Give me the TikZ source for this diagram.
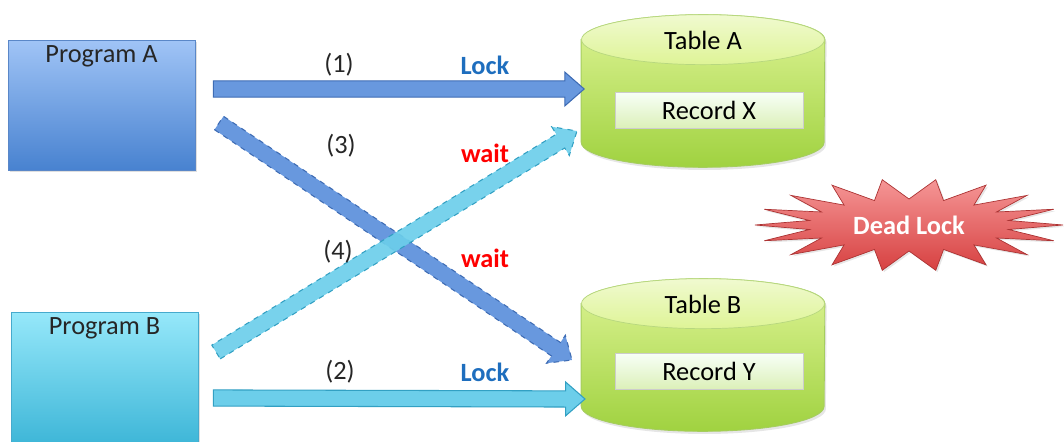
\documentclass[tikz,border=0pt]{standalone}
\usepackage{fontspec}
\setmainfont{Carlito}
\usetikzlibrary{shadows, calc}

\definecolor{progAtop}{RGB}{160,196,246}
\definecolor{progAbot}{RGB}{72,130,208}
\definecolor{progAline}{RGB}{90,135,200}
\definecolor{progBtop}{RGB}{150,232,250}
\definecolor{progBbot}{RGB}{58,180,214}
\definecolor{progBline}{RGB}{70,170,205}
\definecolor{arrA}{RGB}{104,152,222}
\definecolor{arrAline}{RGB}{62,108,180}
\definecolor{arrB}{RGB}{108,206,234}
\definecolor{arrBline}{RGB}{50,160,195}
\definecolor{tabtop}{RGB}{222,244,150}
\definecolor{tabbot}{RGB}{160,210,64}
\definecolor{tabline}{RGB}{165,205,95}
\definecolor{lockblue}{RGB}{30,110,190}
\definecolor{deadtop}{RGB}{245,150,150}
\definecolor{deadbot}{RGB}{215,65,65}

% fat block arrow from #1 to #2, drawn with style #3
\newcommand{\fatarrow}[3]{%
  \path let \p1=(#1), \p2=(#2) in
    \pgfextra{\pgfmathsetmacro{\fatang}{atan2(\y2-\y1,\x2-\x1)}%
      \pgfmathsetmacro{\fatlen}{veclen(\x2-\x1,\y2-\y1)}%
      \global\let\fatang\fatang \global\let\fatlen\fatlen};
  \begin{scope}[shift={(#1)}, rotate=\fatang]
    \draw[#3] (0pt,-4.6pt) -- ({\fatlen pt-11pt},-4.6pt) -- ({\fatlen pt-11pt},-9.6pt)
      -- ({\fatlen pt},0pt) -- ({\fatlen pt-11pt},9.6pt) -- ({\fatlen pt-11pt},4.6pt)
      -- (0pt,4.6pt) -- cycle;
  \end{scope}}

% database cylinder around the frame of node #1
\newcommand{\dbcylinder}[1]{%
  \draw[tablebody] ($(#1.north west)+(0,25)$) -- ($(#1.south west)+(0,-25)$)
    arc[start angle=180, end angle=360, x radius=2.43cm, y radius=0.5cm]
    -- ($(#1.north east)+(0,25)$)
    arc[start angle=0, end angle=180, x radius=2.43cm, y radius=0.5cm] -- cycle;
  \draw[tabletop] ($(#1.north)+(0,25)$) ellipse [x radius=2.43cm, y radius=0.5cm];}

\begin{document}
\begin{tikzpicture}[
    x=0.02cm, y=-0.02cm,
    font=\fontsize{15}{18}\selectfont,
    progbox/.style={rectangle, draw, minimum width=3.74cm,
      drop shadow={opacity=0.25, shadow xshift=1pt, shadow yshift=-1pt}},
    tablebox/.style={rectangle, minimum width=4.86cm, minimum height=3.04cm, inner sep=0pt},
    tablebody/.style={draw=tabline, line width=0.5pt, top color=tabtop, bottom color=tabbot,
      drop shadow={opacity=0.2, shadow xshift=1pt, shadow yshift=-1.5pt}},
    tabletop/.style={draw=tabline!80, line width=0.4pt, top color=tabtop!45, bottom color=tabtop},
    recbox/.style={rectangle, draw=gray!40, minimum width=3.76cm, minimum height=0.72cm,
      top color=green!3!white, bottom color={rgb,255:red,220;green,240;blue,185},
      drop shadow={opacity=0.25, shadow xshift=0.8pt, shadow yshift=-0.8pt}},
    steplbl/.style={text=black!85},
    locklbl/.style={font=\fontsize{15}{18}\selectfont\bfseries, text=lockblue},
    waitlbl/.style={font=\fontsize{15}{18}\selectfont\bfseries, text=red},
    arrowA/.style={fill=arrA, draw=arrAline, line width=0.6pt},
    arrowB/.style={fill=arrB, draw=arrBline, line width=0.6pt},
    waitA/.style={arrowA, dashed},
    waitB/.style={arrowB, dashed, fill opacity=0.92}
  ]
  \useasboundingbox (0,0) rectangle (1064,442);

  % programs
  \node[progbox, minimum height=2.6cm, draw=progAline, top color=progAtop, bottom color=progAbot,
    label={[anchor=center, yshift=-0.34cm, text=black!85]north:Program A}] (progA) at (101.5,105) {};
  \node[progbox, minimum height=2.76cm, draw=progBline, top color=progBtop, bottom color=progBbot,
    label={[anchor=center, yshift=-0.34cm, text=black!85]north:Program B}] (progB) at (104.5,381) {};

  % tables
  \node[tablebox] (tabA) at (703,91) {};
  \node[tablebox] (tabB) at (703,355) {};
  \dbcylinder{tabA}
  \dbcylinder{tabB}
  \node (tabAname) at ($(tabA.north)+(0,26)$) {Table A};
  \node (tabBname) at ($(tabB.north)+(0,26)$) {Table B};
  \node[recbox] (recX) at (709,110) {Record X};
  \node[recbox] (recY) at (709,371) {Record Y};

  % arrow ends
  \coordinate (a1s) at ($(progA.east)+(18,-16)$);
  \coordinate (a1e) at ($(tabA.west)+(3,-2)$);
  \coordinate (a2s) at ($(progB.east)+(15,17)$);
  \coordinate (a2e) at (585,399);
  \coordinate (a3s) at (219,123);
  \coordinate (a3e) at (572,360);
  \coordinate (a4s) at (216,352);
  \coordinate (a4e) at (577,131);

  \fatarrow{a1s}{a1e}{arrowA}
  \fatarrow{a2s}{a2e}{arrowB}
  \fatarrow{a3s}{a3e}{waitA}
  \fatarrow{a4s}{a4e}{waitB}

  % labels
  \node[steplbl] (n1) at (339,65) {(1)};
  \node[locklbl] (lock1) at (485,65) {Lock};
  \node[steplbl] (n3) at (341,146) {(3)};
  \node[waitlbl] (wait3) at (485,153) {wait};
  \node[steplbl] (n4) at (338,252) {(4)};
  \node[waitlbl] (wait4) at (485,258) {wait};
  \node[steplbl] (n2) at (340,372) {(2)};
  \node[locklbl] (lock2) at (485,372) {Lock};

  % dead lock burst
  \coordinate (dlc) at (909,225);
  \begin{scope}[shift={(dlc)}]
    \draw[draw=deadbot!80!black, line width=0.4pt, top color=deadtop, bottom color=deadbot,
      drop shadow={opacity=0.2, shadow xshift=1pt, shadow yshift=-1pt}]
      plot[variable=\k, samples at={0,...,35}]
        ({ifthenelse(mod(\k,2)==0,154,101)*cos(\k*10)}, {ifthenelse(mod(\k,2)==0,46,26)*sin(\k*10)}) -- cycle;
  \end{scope}
  \node[font=\fontsize{15}{18}\selectfont\bfseries, text=white] (dead) at (dlc) {Dead Lock};
\end{tikzpicture}
\end{document}
